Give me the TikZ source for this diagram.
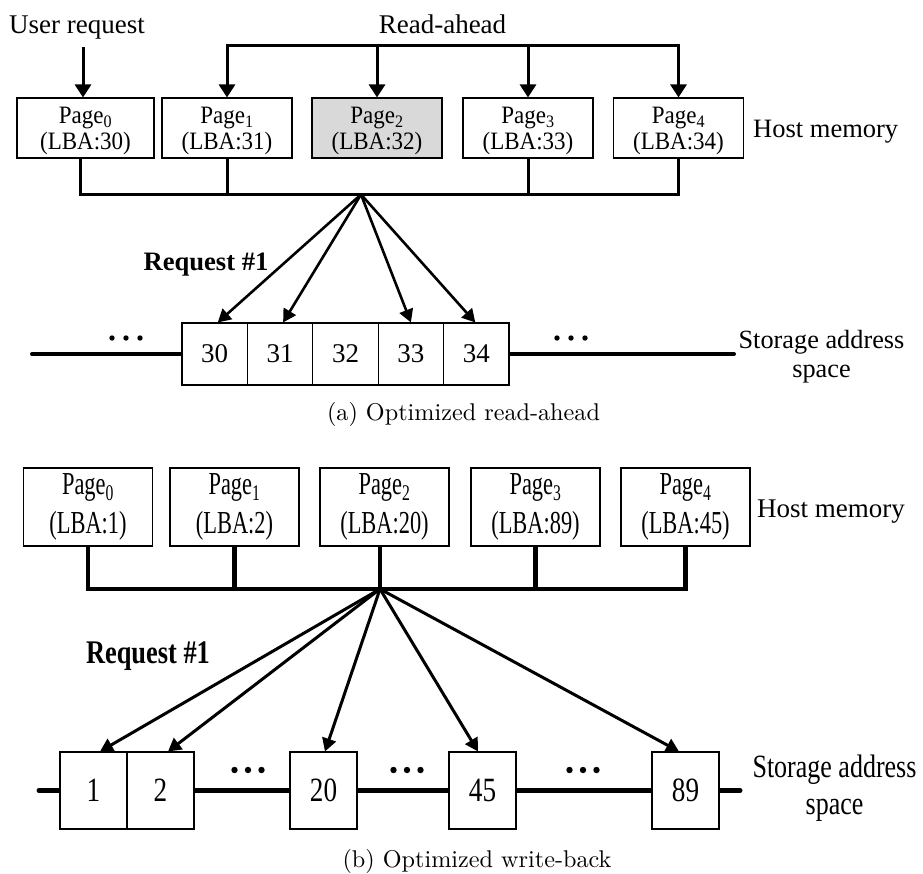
\documentclass[tikz,border=0pt]{standalone}
\usepackage{fontspec}
\newfontfamily\tnr{Liberation Serif}
\newfontfamily\tnrA[FakeStretch=0.92]{Liberation Serif}
\newfontfamily\tnrB[FakeStretch=0.7]{Liberation Serif}
\newfontfamily\tnrC[FakeStretch=0.8]{Liberation Serif}
\newfontfamily\cmten{lmroman10-regular.otf}
\usetikzlibrary{arrows.meta,calc}

% two-line page label, lowered a little in its box
\newcommand\pagelabel[2]{\raisebox{-3.3pt}[\height][\depth]{%
  \begin{tabular}{@{}c@{}}Page\textsubscript{#1}\\(LBA:#2)\end{tabular}}}

\tikzset{
  pagebox/.style={draw, line width=1.1pt, fill=white, inner sep=0pt, align=center},
  toppage/.style={pagebox, minimum width=130pt, minimum height=60pt,
    font=\tnrA\fontsize{25}{26.5}\selectfont},
  botpage/.style={pagebox, minimum width=129pt, minimum height=78pt,
    font=\tnrB\fontsize{32}{39}\selectfont},
  topcell/.style={draw, line width=1.1pt, fill=white, inner sep=0pt,
    minimum width=65.4pt, minimum height=62pt, font=\tnr\fontsize{27}{30}\selectfont},
  botcell/.style={draw, line width=1.1pt, fill=white, inner sep=0pt,
    minimum width=67pt, minimum height=77pt, font=\tnrC\fontsize{34}{38}\selectfont},
  bus/.style={line width=3pt, line join=miter},
  busB/.style={line width=4.3pt, line join=miter},
  downarr/.style={line width=3pt, line join=miter,
    -{Triangle[length=13pt,width=16pt]}},
  fanA/.style={line width=2.6pt, -{Triangle[length=13pt,width=14pt]}},
  fanB/.style={line width=3pt, -{Triangle[length=13pt,width=14pt]}},
  lbl/.style={inner sep=0pt, font=\tnr\fontsize{27}{30}\selectfont},
  caption/.style={inner sep=0pt, anchor=base, font=\cmten\fontsize{24.2}{28}\selectfont},
  dot/.style={fill=black},
}

\begin{document}
\begin{tikzpicture}[x=1pt,y=-1pt]
\useasboundingbox (0,0) rectangle (923,873);

%% ---------------- (a) read-ahead ----------------
\node[lbl, anchor=base] (ureq) at (77,33) {User request};
\node[lbl, anchor=base] (rahead) at (442.5,33) {Read-ahead};

\node[toppage, minimum width=137pt] (t0) at (85.5,128) {\pagelabel{0}{30}};
\node[toppage] (t1) at (227,128) {\pagelabel{1}{31}};
\node[toppage, fill=gray!30] (t2) at (377,128) {\pagelabel{2}{32}};
\node[toppage] (t3) at (528,128) {\pagelabel{3}{33}};
\node[toppage] (t4) at (678.5,128) {\pagelabel{4}{34}};
\node[lbl, anchor=base west, font=\tnr\fontsize{26.5}{30}\selectfont] (hmA) at (753,137) {Host memory};

% user request and read-ahead arrows
\coordinate (ureqTop) at (83,47);
\coordinate (raBar) at (0,45);
\draw[downarr] (ureqTop) -- ([xshift=-2.5pt]t0.north);
\draw[downarr, {Triangle[length=13pt,width=16pt]}-{Triangle[length=13pt,width=16pt]}]
  (t1.north) |- (t4.north |- raBar) -- (t4.north);
\draw[downarr] (t2.north |- raBar) -- (t2.north);
\draw[downarr] (t3.north |- raBar) -- (t3.north);

% page bus and request fan
\coordinate (hubA) at (361,194.5);
\draw[bus] ([xshift=-5.5pt]t0.south) |- (hubA) -| (t4.south);
\draw[bus] (t1.south) -- (t1.south |- hubA);
\draw[bus] (t3.south) -- (t3.south |- hubA);

% storage address line
\coordinate (lnAL) at (32,354);
\coordinate (lnAR) at (734,354);
\draw[line width=4pt, line cap=round] (lnAL) -- (lnAR);
\node[topcell] (s30) at (214.7,354) {30};
\node[topcell] (s31) at (280.1,354) {31};
\node[topcell] (s32) at (345.5,354) {32};
\node[topcell] (s33) at (410.9,354) {33};
\node[topcell] (s34) at (476.3,354) {34};
\foreach \x in {112,126,140} \fill[dot] (\x,338) circle (2.7);
\foreach \x in {557,571,585} \fill[dot] (\x,338) circle (2.7);

\draw[fanA] (hubA) -- ([xshift=3pt]s30.north);
\draw[fanA] (hubA) -- ([xshift=3pt]s31.north);
\draw[fanA] (hubA) -- (s33.north);
\draw[fanA] (hubA) -- ([xshift=-1pt]s34.north);

\node[lbl, anchor=base, font=\tnr\bfseries\fontsize{26.6}{30}\selectfont] (reqA) at (206,270) {Request \#1};
\node[lbl, align=center, font=\tnr\fontsize{26.3}{29}\selectfont] (saA) at (821.5,356.5) {Storage address\\space};

\node[caption] (capA) at (463.5,420) {(a) Optimized read-ahead};

%% ---------------- (b) write-back ----------------
\node[botpage] (b0) at (88,507) {Page\textsubscript{0}\\(LBA:1)};
\node[botpage] (b1) at (234.5,507) {Page\textsubscript{1}\\(LBA:2)};
\node[botpage] (b2) at (384.5,507) {Page\textsubscript{2}\\(LBA:20)};
\node[botpage] (b3) at (535.5,507) {Page\textsubscript{3}\\(LBA:89)};
\node[botpage] (b4) at (685.5,507) {Page\textsubscript{4}\\(LBA:45)};
\node[lbl, anchor=base west] (hmB) at (757,517) {Host memory};

\coordinate (hubB) at (380,589);
\draw[busB] (b0.south) |- (hubB) -| (b4.south);
\draw[busB] (b1.south) -- (b1.south |- hubB);
\draw[busB] ([xshift=-4.5pt]b2.south) -- (hubB);
\draw[busB] (b3.south) -- (b3.south |- hubB);

\coordinate (lnBL) at (39,790.5);
\coordinate (lnBR) at (740,790.5);
\draw[line width=5pt, line cap=round] (lnBL) -- (lnBR);
\node[botcell] (c1) at (93.5,790.5) {1};
\node[botcell] (c2) at (160.5,790.5) {2};
\node[botcell] (c20) at (323.5,790.5) {20};
\node[botcell] (c45) at (482.5,790.5) {45};
\node[botcell] (c89) at (685.5,790.5) {89};
\foreach \x in {234.5,248,261.5} \fill[dot] (\x,770) circle (3.2);
\foreach \x in {393.5,407,420.5} \fill[dot] (\x,770) circle (3.2);
\foreach \x in {569.5,583,596.5} \fill[dot] (\x,770) circle (3.2);

\draw[fanB] (hubB) -- ([xshift=6.5pt]c1.north);
\draw[fanB] (hubB) -- ([xshift=7.5pt]c2.north);
\draw[fanB] (hubB) -- ([xshift=1.5pt]c20.north);
\draw[fanB] (hubB) -- ([xshift=-4.5pt]c45.north);
\draw[fanB] (hubB) -- ([xshift=-6.5pt]c89.north);

\node[lbl, anchor=base, font=\tnrC\bfseries\fontsize{33}{36}\selectfont] (reqB) at (148,663) {Request \#1};
\node[lbl, align=center, font=\tnrC\fontsize{32.5}{37}\selectfont] (saB) at (834.5,788.5) {Storage address\\space};

\node[caption] (capB) at (477,867) {(b) Optimized write-back};
\end{tikzpicture}
\end{document}
